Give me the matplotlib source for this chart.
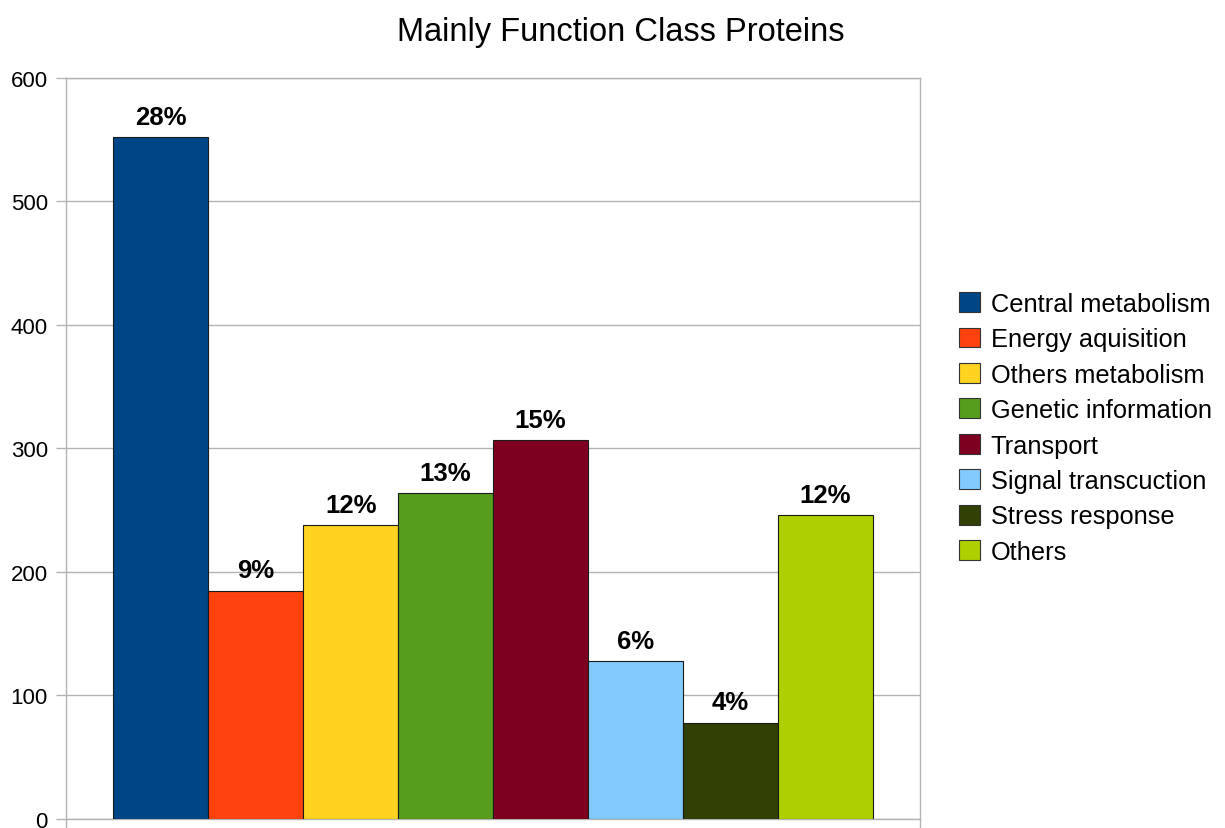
import matplotlib
matplotlib.use("Agg")
import matplotlib.pyplot as plt
from matplotlib.patches import Patch

plt.rcParams['font.family'] = ['Liberation Sans', 'DejaVu Sans']

categories = ["Central metabolism", "Energy aquisition", "Others metabolism",
              "Genetic information", "Transport", "Signal transcuction",
              "Stress response", "Others"]
counts = [552, 185, 238, 264, 307, 128, 78, 246]
colors = ["#004586", "#ff420e", "#ffd320", "#579d1c",
          "#7e0021", "#83caff", "#314004", "#aecf00"]
y_ticks = [0, 100, 200, 300, 400, 500, 600]

fig = plt.figure(figsize=(12.25, 8.29), dpi=100)
ax = fig.add_axes([0.0539, 0.0109, 0.6971, 0.8938])

total = sum(counts)
positions = list(range(len(counts)))
bars = ax.bar(positions, counts, width=1.0, color=colors,
              edgecolor="#1a1a1a", linewidth=0.8, zorder=3)

for x, v in zip(positions, counts):
    ax.annotate(f"{round(v / total * 100)}%", xy=(x, v), xytext=(0, 6),
                textcoords="offset points", ha="center", va="bottom",
                fontsize=18.5, fontweight="bold", color="black", zorder=4)

ax.set_xlim(-1.0, 8.0)
ax.set_ylim(0, 600)
ax.set_yticks(y_ticks)
ax.set_yticklabels([str(t) for t in y_ticks], fontsize=16)
ax.set_xticks([-1.0, 8.0])
ax.set_xticklabels(["", ""])
ax.tick_params(axis="y", direction="out", length=7, color="#b3b3b3", width=1, pad=6)
ax.tick_params(axis="x", direction="out", length=7, color="#b3b3b3", width=1)
ax.yaxis.grid(True, color="#b3b3b3", linewidth=1, zorder=0)
ax.set_axisbelow(True)
for s in ax.spines.values():
    s.set_color("#b3b3b3")
    s.set_linewidth(1)

fig.suptitle("Mainly Function Class Proteins", x=0.507, y=0.979,
             fontsize=23.5, va="top")

handles = [Patch(facecolor=c, edgecolor="#333333", linewidth=0.8) for c in colors]
fig.legend(handles, categories, loc="upper left", bbox_to_anchor=(0.7745, 0.659),
           frameon=False, fontsize=18.3, handlelength=0.82, handleheight=0.82,
           handletextpad=0.43, labelspacing=0.45, borderaxespad=0)

fig.savefig("out.png", dpi=100)
